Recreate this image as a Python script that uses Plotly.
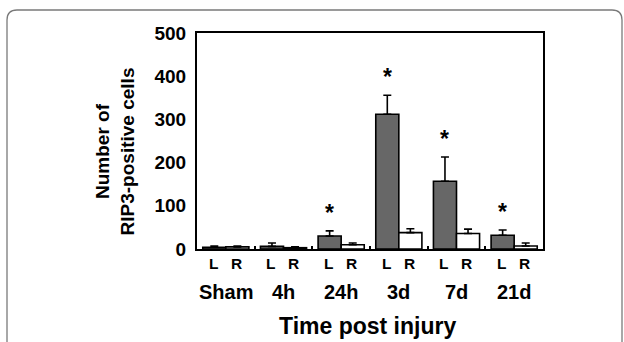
import plotly.graph_objects as go

groups = ["Sham", "4h", "24h", "3d", "7d", "21d"]
side_labels = ["L", "R"]
left_values = [4, 6, 30, 312, 157, 32]
left_errors = [3, 8, 12, 44, 56, 12]
right_values = [5, 3, 10, 38, 36, 7]
right_errors = [2, 2, 4, 9, 10, 7]
significant = [False, False, True, True, True, True]
y_ticks = [0, 100, 200, 300, 400, 500]

FONT = "Liberation Sans, Arial, Helvetica, sans-serif"
xs = list(range(len(groups)))

fig = go.Figure()
fig.add_trace(go.Bar(
    x=xs, y=left_values, name="L",
    marker=dict(color="#676767", line=dict(color="black", width=1.6)),
    error_y=dict(type="data", array=left_errors, arrayminus=[0]*len(xs), symmetric=False,
                 color="black", thickness=1.6, width=4),
))
fig.add_trace(go.Bar(
    x=xs, y=right_values, name="R",
    marker=dict(color="white", line=dict(color="black", width=1.6)),
    error_y=dict(type="data", array=right_errors, arrayminus=[0]*len(xs), symmetric=False,
                 color="black", thickness=1.6, width=4),
))

annotations = []
# asterisks
for i, sig in enumerate(significant):
    if sig:
        annotations.append(dict(x=i - 0.2, y=left_values[i] + left_errors[i], xref="x", yref="y",
                                text="*", showarrow=False, yanchor="bottom", yshift=3,
                                font=dict(family=FONT, size=23, color="black", weight="bold")))
# L / R labels
for i in xs:
    for k, lab in enumerate(side_labels):
        annotations.append(dict(x=i - 0.22 + 0.4 * k, y=-0.065, xref="x", yref="paper",
                                text=lab, showarrow=False, yanchor="middle",
                                font=dict(family=FONT, size=15.5, color="black", weight="bold")))
    annotations.append(dict(x=i, y=-0.2, xref="x", yref="paper", text=groups[i], showarrow=False,
                            yanchor="middle",
                            font=dict(family=FONT, size=20, color="black", weight="bold")))
annotations.append(dict(x=0.493, y=-0.355, xref="paper", yref="paper", text="Time post injury",
                        showarrow=False, yanchor="middle",
                        font=dict(family=FONT, size=23, color="black", weight="bold")))
annotations.append(dict(x=-0.238, y=0.45, xref="paper", yref="paper",
                        text="Number of<br>RIP3-positive cells", textangle=-90,
                        showarrow=False, xanchor="center", yanchor="middle",
                        font=dict(family=FONT, size=19, color="black", weight="bold")))

# outer rounded frame (pixel -> paper conversion)
W, H = 346.0, 216.0
def px(x):
    return (x - 197) / W
def py(y):
    return (249 - y) / H
r = 10
path = (f"M {px(7)},{py(360)} L {px(7)},{py(10 + r)} "
        f"Q {px(7)},{py(10)} {px(7 + r)},{py(10)} "
        f"L {px(622 - r)},{py(10)} Q {px(622)},{py(10)} {px(622)},{py(10 + r)} "
        f"L {px(622)},{py(360)}")

fig.update_layout(
    width=624, height=342,
    margin=dict(l=197, r=81, t=33, b=93),
    paper_bgcolor="white", plot_bgcolor="white",
    barmode="group", bargap=0.2, bargroupgap=0,
    showlegend=False,
    annotations=annotations,
    shapes=[dict(type="path", path=path, xref="paper", yref="paper",
                 line=dict(color="#7a7a7a", width=1.3))],
    xaxis=dict(range=[-0.5, len(groups) - 0.5], showgrid=False, zeroline=False,
               showline=True, linecolor="black", linewidth=2, mirror=True,
               tickvals=[i + 0.5 for i in xs[:-1]], ticks="inside", ticklen=3, tickwidth=2,
               tickcolor="black", showticklabels=False),
    yaxis=dict(range=[0, 500], tickvals=y_ticks, showgrid=False, zeroline=False,
               showline=True, linecolor="black", linewidth=2, mirror=True,
               ticks="", ticklabelstandoff=5,
               tickfont=dict(family=FONT, size=19, color="black", weight="bold")),
)

fig.write_html("out.html", config={"displayModeBar": False},
               post_script="document.body.style.margin='0';document.body.style.padding='0';")
